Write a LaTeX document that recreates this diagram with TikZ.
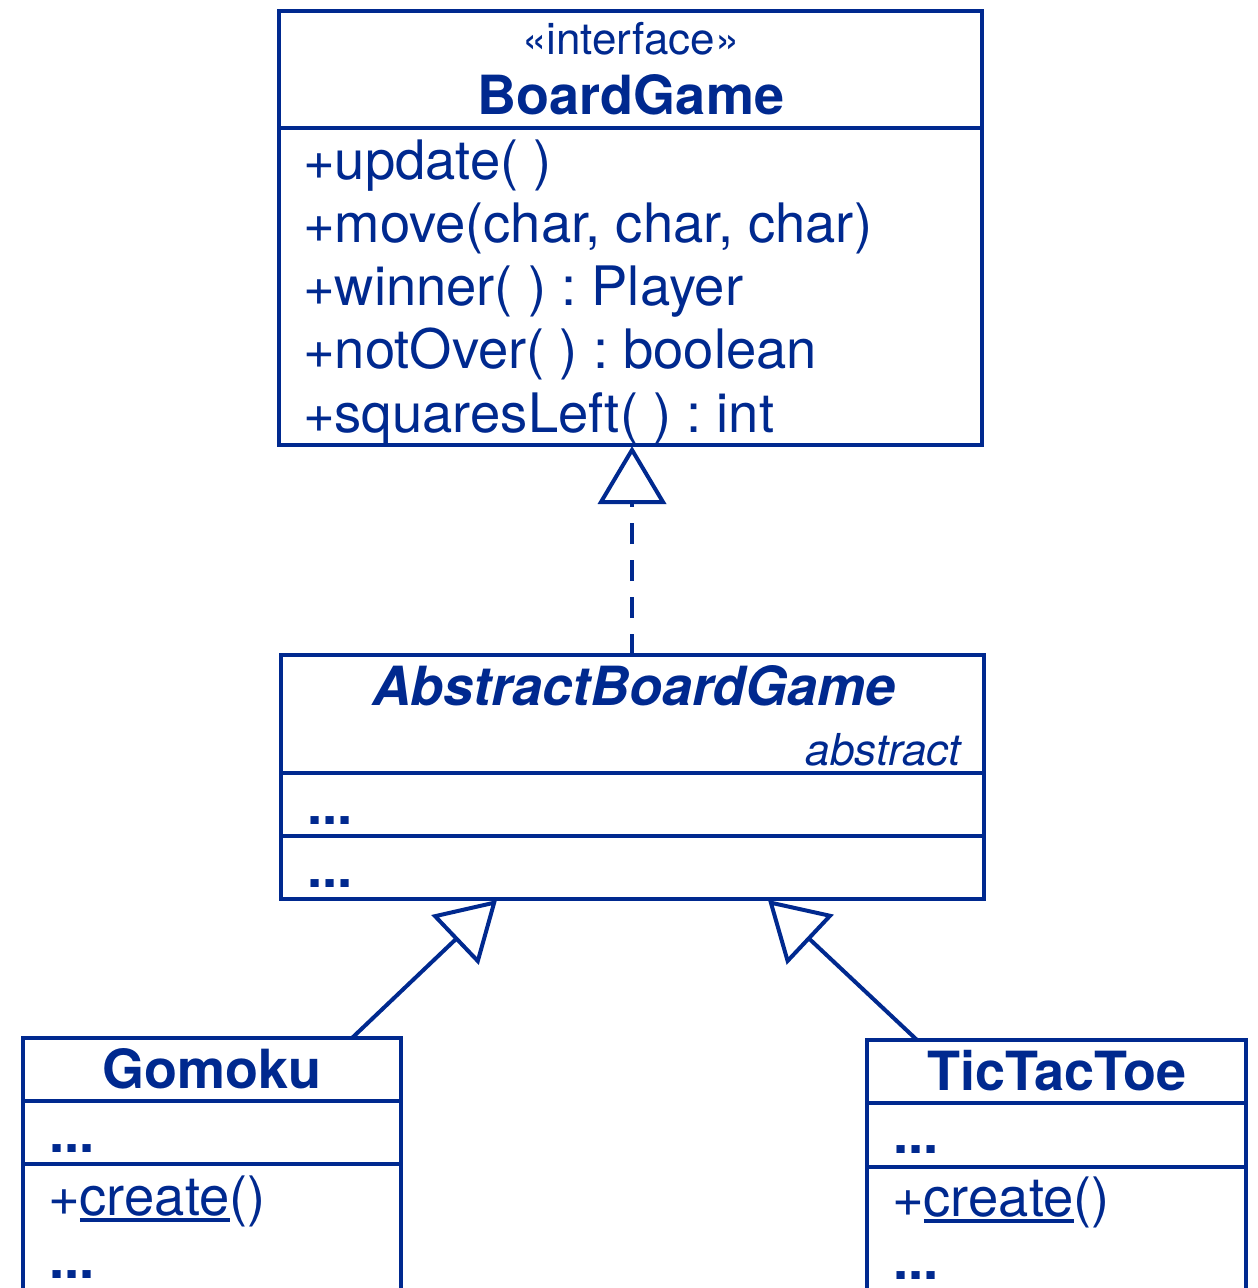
\documentclass[tikz,border=0pt]{standalone}
\usepackage{fontspec}
\setmainfont{TeX Gyre Heros}
\usetikzlibrary{arrows.meta,fit}
\definecolor{umlblue}{RGB}{0,41,143}
\newcommand\myul[1]{\setbox0\hbox{#1}\rlap{\rule[-3.6pt]{\wd0}{1.9pt}}\box0}
\frenchspacing
\begin{document}
\begin{tikzpicture}[x=0.5pt,y=-0.5pt,line width=2pt,color=umlblue,
  box/.style={draw,inner sep=0pt},
  big/.style={inner sep=0pt,font=\fontsize{27.2}{32}\selectfont},
  small/.style={inner sep=0pt,font=\fontsize{22}{26}\selectfont},
  item/.style={big,anchor=base west},
  title/.style={big,anchor=base,font=\fontsize{27}{32}\selectfont\bfseries},
  gen/.style={-{Triangle[open,length=29pt,width=34pt]}},
  realize/.style={gen,dash pattern=on 10.5pt off 8pt}]
\useasboundingbox (0,0) rectangle (1257,1288);
\clip (0,0) rectangle (1257,1288);

% BoardGame
\node[box,fit={(279,11) (982,445)}] (bg) {};
\draw (bg.west |- 0,128) -- (bg.east |- 0,128);
\node[small,anchor=base] (bgst) at (631,55) {«interface»};
\node[title] (bgname) at (631,115) {BoardGame};
\node[item] (bg1) at (301,180) {+update( )};
\node[item] (bg2) at (301,243) {+move(char, char, char)};
\node[item] (bg3) at (301,306) {+winner( ) : Player};
\node[item] (bg4) at (301,369) {+notOver( ) : boolean};
\node[item] (bg5) at (301,432) {+squaresLeft( ) : int};

% AbstractBoardGame
\node[box,fit={(281,655) (984,899)}] (abg) {};
\draw (abg.west |- 0,773) -- (abg.east |- 0,773);
\draw (abg.west |- 0,836) -- (abg.east |- 0,836);
\node[title,font=\fontsize{27}{32}\selectfont\bfseries\itshape] (abgname) at (634,705) {AbstractBoardGame};
\node[small,anchor=base east,font=\fontsize{22}{26}\selectfont\itshape] (abgab) at (963,765) {abstract};
\node[item] (abg1) at (305,824) {\textbf{...}};
\node[item] (abg2) at (305,887) {\textbf{...}};

% Gomoku
\node[box,fit={(23,1038) (401,1320)}] (gom) {};
\draw (gom.west |- 0,1101) -- (gom.east |- 0,1101);
\draw (gom.west |- 0,1164) -- (gom.east |- 0,1164);
\node[title] (gomname) at (212,1088) {Gomoku};
\node[item] (gom1) at (47,1152) {\textbf{...}};
\node[item] (gom2) at (46,1215) {+\myul{create}()};
\node[item] (gom3) at (47,1278) {\textbf{...}};

% TicTacToe
\node[box,fit={(867,1040) (1246,1320)}] (ttt) {};
\draw (ttt.west |- 0,1103) -- (ttt.east |- 0,1103);
\draw (ttt.west |- 0,1167) -- (ttt.east |- 0,1167);
\node[title] (tttname) at (1057,1090) {TicTacToe};
\node[item] (ttt1) at (891,1153) {\textbf{...}};
\node[item] (ttt2) at (890,1216) {+\myul{create}()};
\node[item] (ttt3) at (891,1279) {\textbf{...}};

% connectors
\coordinate (gomtop) at (352,1038);
\coordinate (abgL) at (497,900);
\coordinate (ttttop) at (917,1040);
\coordinate (abgR) at (768,900);
\coordinate (abgtop) at (632,655);
\coordinate (bgbot) at (632,446);
\draw[realize] (abgtop) -- (bgbot);
\draw[gen] (gomtop) -- (abgL);
\draw[gen] (ttttop) -- (abgR);
\end{tikzpicture}
\end{document}
